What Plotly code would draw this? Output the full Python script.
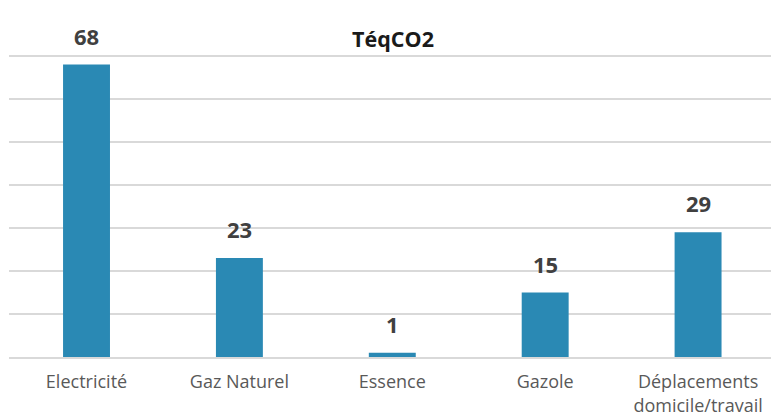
import plotly.graph_objects as go

categories = ["Electricité", "Gaz Naturel", "Essence", "Gazole", "Déplacements<br>domicile/travail"]
values = [68, 23, 1, 15, 29]
y_ticks = [0, 10, 20, 30, 40, 50, 60, 70, 80]

BAR_COLOR = "#2A89B4"
LABEL_COLOR = "#404040"
AXIS_TEXT = "#595959"
GRID = "#D9D9D9"

fig = go.Figure(
    go.Bar(
        x=categories,
        y=values,
        marker=dict(color=BAR_COLOR, line=dict(width=0)),
        hoverinfo="x+y",
    )
)

# value labels sitting above each bar
for cat, val in zip(categories, values):
    fig.add_annotation(
        x=cat,
        y=val,
        text=f"<b>{val}</b>",
        showarrow=False,
        yanchor="middle",
        yshift=29,
        font=dict(family="Open Sans", size=22, color=LABEL_COLOR),
    )

fig.update_layout(
    width=771,
    height=417,
    margin=dict(l=9, r=0, t=13, b=60),
    paper_bgcolor="white",
    plot_bgcolor="white",
    bargap=0.693,
    showlegend=False,
    title=dict(
        text="<b>TéqCO2</b>",
        x=393 / 771,
        xanchor="center",
        y=1 - 39 / 417,
        yanchor="middle",
        yref="container",
        font=dict(family="Open Sans", size=21.5, color="#1a1a1a"),
    ),
    font=dict(family="Open Sans"),
)

fig.update_xaxes(
    range=[-0.507, 4.477],
    showgrid=False,
    showline=True,
    linecolor=GRID,
    linewidth=1.5,
    ticks="",
    ticklabelstandoff=8,
    automargin=False,
    tickfont=dict(family="Open Sans", size=18, color=AXIS_TEXT),
)
fig.update_yaxes(
    range=[0, 80],
    tickvals=y_ticks,
    showticklabels=False,
    showgrid=True,
    gridcolor=GRID,
    gridwidth=1.5,
    zeroline=False,
    automargin=False,
)

fig.write_html("out.html")
